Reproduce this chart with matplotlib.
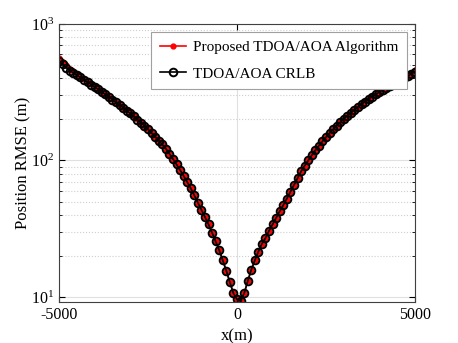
import numpy as np
import matplotlib
matplotlib.use("Agg")
import matplotlib.pyplot as plt
from matplotlib.ticker import LogLocator, NullFormatter, FixedLocator

plt.rcParams['font.family'] = ['Liberation Serif', 'DejaVu Serif']
plt.rcParams['mathtext.fontset'] = 'custom'
plt.rcParams['mathtext.rm'] = 'Liberation Serif'
plt.rcParams['axes.unicode_minus'] = False

# === DATA ===
x_pos = list(range(-5000, 5001, 100))

crlb = [
    535, 505, 480, 456, 439, 422, 406, 390, 375, 360,
    346, 332, 318, 305, 292, 279.5, 267, 255, 243.5, 232,
    221, 210, 199.5, 189, 179, 169, 159, 149.5, 140, 131,
    122, 112, 102.5, 93.5, 85, 77, 69.5, 62.5, 55.5, 49,
    43.5, 38.5, 34, 29.5, 25.5, 22, 18.5, 15.5, 12.8, 10.6,
    9.6,
    9.4, 10.6, 13, 15.8, 18.5, 21.5, 24.5, 27, 30.5, 34,
    38, 42.5, 47, 52.5, 59, 66, 74, 83, 91.5, 100,
    109, 118.5, 128, 138, 148, 158.5, 169, 180, 191, 202,
    213, 224, 235.5, 247, 258.5, 270, 281.5, 293, 305, 317,
    329, 341, 353, 365, 377.5, 390, 403, 416, 430, 448,
]

proposed = [
    565, 528, 498, 470, 450, 431, 413, 396, 380, 364,
    349, 334, 320, 306, 293, 280, 267.5, 255.5, 244, 232.5,
    221.5, 210.5, 200, 189.5, 179.5, 169, 159, 149.5, 140, 131,
    122, 112, 102.5, 93.5, 85, 77, 69.5, 62.5, 55.5, 49,
    43.5, 38.5, 34, 29.5, 25.5, 22, 18.5, 15.5, 12.8, 10.6,
    9.6,
    9.4, 10.6, 13, 15.8, 18.5, 21.5, 24.5, 27, 30.5, 34,
    38, 42.5, 47, 52.5, 59, 66, 74, 83, 91.5, 100,
    109, 118.5, 128, 138, 148, 158.5, 169, 180, 191, 202,
    213.5, 224.5, 236, 248, 259.5, 271, 283, 295, 307, 319.5,
    332, 344.5, 357, 369.5, 382.5, 396, 410, 424, 440, 462,
]

labels = ["Proposed TDOA/AOA Algorithm", "TDOA/AOA CRLB"]

# === PLOT ===
fig = plt.figure(figsize=(4.58, 3.43), dpi=100)
ax = fig.add_axes([0.129, 0.120, 0.777, 0.810])

ax.semilogy(x_pos, proposed, '-o', color='red', markersize=3.5, linewidth=1.2,
            markerfacecolor='red', markeredgecolor='red', label=labels[0])
ax.semilogy(x_pos, crlb, '-o', color='black', markersize=5.5, linewidth=1.2,
            markerfacecolor='none', markeredgecolor='black', markeredgewidth=1.4,
            label=labels[1])

ax.set_xlim(-5000, 5000)
ax.set_ylim(9.2, 1000)
ax.xaxis.set_major_locator(FixedLocator([-5000, 0, 5000]))
ax.set_xticklabels(["-5000", "0", "5000"])
ax.yaxis.set_major_locator(LogLocator(base=10, numticks=10))
ax.yaxis.set_minor_locator(LogLocator(base=10, subs=np.arange(2, 10), numticks=10))
ax.yaxis.set_minor_formatter(NullFormatter())

ax.grid(True, which='major', color='#e0e0e0', linestyle='-', linewidth=0.8)
ax.grid(True, which='minor', axis='y', color='#cfcfcf', linestyle=':', linewidth=0.8)
ax.set_axisbelow(True)

ax.tick_params(which='both', direction='in', top=True, right=True, labelsize=11.5)
ax.tick_params(which='major', length=4)
ax.tick_params(which='minor', length=2.5)
for s in ax.spines.values():
    s.set_color('#404040')
    s.set_linewidth(0.8)

ax.set_xlabel("x(m)", fontsize=12, labelpad=4)
ax.set_ylabel("Position RMSE (m)", fontsize=12, labelpad=-0.5)

leg = ax.legend(loc='upper right', bbox_to_anchor=(0.978, 0.971), fontsize=11,
                fancybox=False, framealpha=1, edgecolor='#a0a0a0',
                handlelength=1.7, handletextpad=0.5, borderpad=0.55,
                labelspacing=0.85, borderaxespad=0)
leg.get_frame().set_linewidth(0.8)

fig.savefig("out.png", dpi=100)
